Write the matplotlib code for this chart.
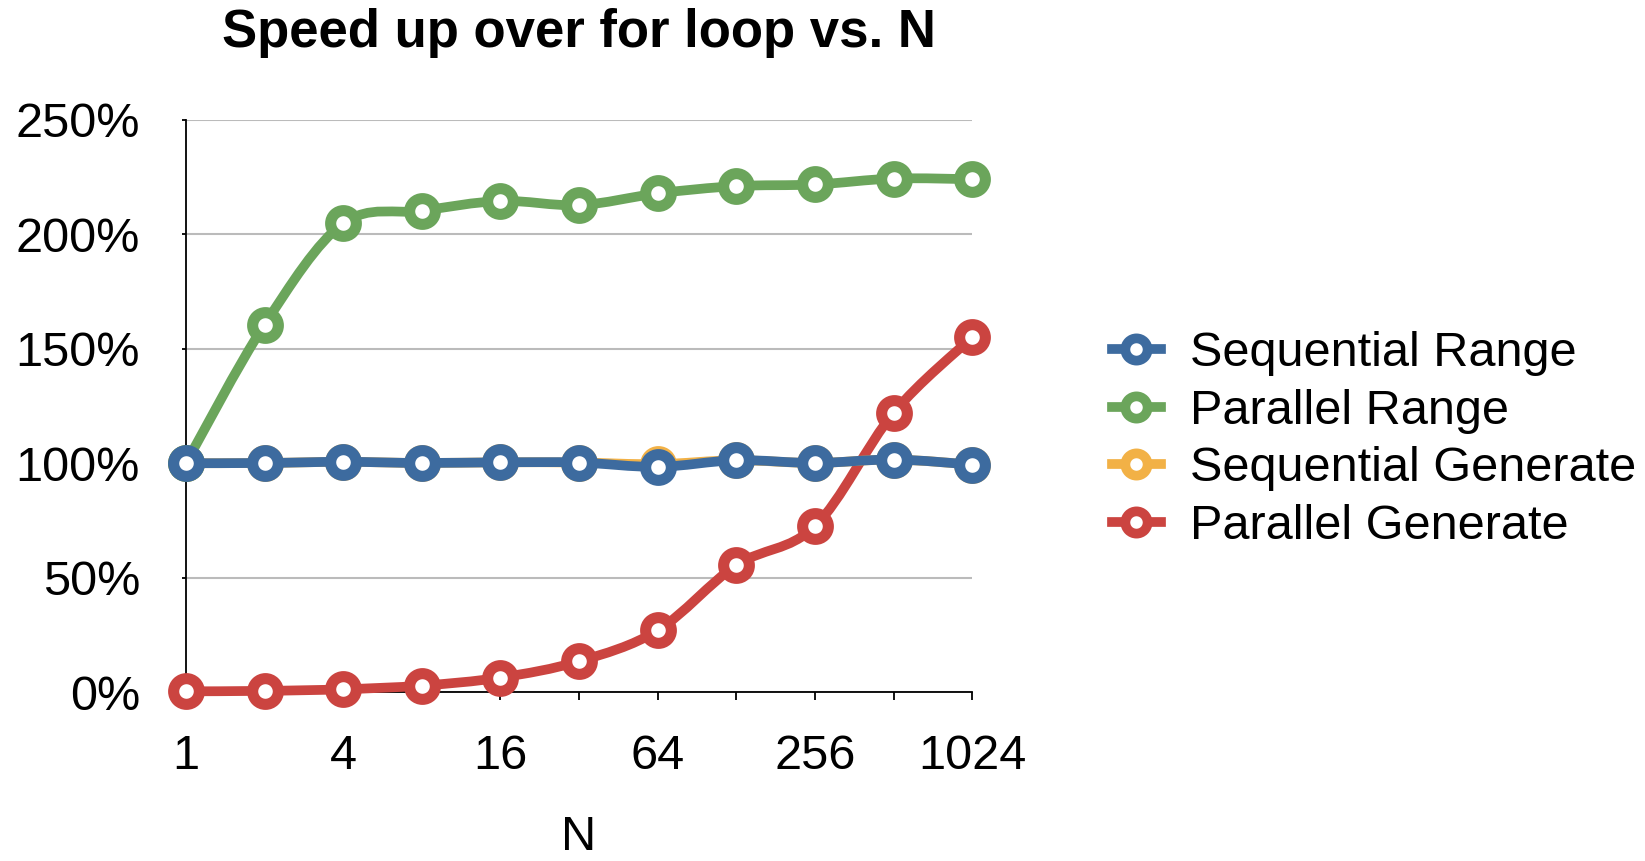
import numpy as np
import matplotlib
matplotlib.use("Agg")
import matplotlib.pyplot as plt
from matplotlib.path import Path
from matplotlib.patches import PathPatch
from matplotlib.lines import Line2D
from matplotlib.ticker import PercentFormatter, NullFormatter

plt.rcParams['font.family'] = ['Liberation Sans', 'DejaVu Sans']

# data (percent speed up vs. N)
n_values = [1, 2, 4, 8, 16, 32, 64, 128, 256, 512, 1024]
seq_range = [100, 100.1, 100.6, 100.1, 100.4, 100.3, 98.4, 101.3, 100.1, 101.6, 99.4]
par_range = [100, 160.5, 204.7, 210.2, 214.5, 212.7, 217.8, 221.0, 221.7, 224.3, 224.0]
seq_generate = [100, 100.1, 100.6, 100.1, 100.4, 100.3, 99.6, 101.3, 100.1, 101.6, 99.4]
par_generate = [0.4, 0.6, 1.3, 2.9, 6.4, 13.5, 27.0, 55.5, 72.5, 122.0, 155.0]

series_names = ["Sequential Range", "Parallel Range", "Sequential Generate", "Parallel Generate"]
series_values = [seq_range, par_range, seq_generate, par_generate]
series_colors = ['#3D6B9F', '#6BA55B', '#F2B146', '#CB4440']

x_major = [1, 4, 16, 64, 256, 1024]
x_minor = [2, 8, 32, 128, 512]
y_ticks = [0, 50, 100, 150, 200, 250]


def smooth_path(xs, ys):
    '''catmull-rom style bezier path, control points worked out in log2 space'''
    u = np.log2(np.asarray(xs, dtype=float))
    v = np.asarray(ys, dtype=float)
    pts = np.column_stack([u, v])
    ext = np.vstack([pts[0], pts, pts[-1]])
    verts = [pts[0]]
    codes = [Path.MOVETO]
    for i in range(len(pts) - 1):
        p0, p1, p2, p3 = ext[i], ext[i + 1], ext[i + 2], ext[i + 3]
        c1 = p1 + (p2 - p0) / 6.0
        c2 = p2 - (p3 - p1) / 6.0
        verts += [c1, c2, p2]
        codes += [Path.CURVE4] * 3
    verts = np.array(verts)
    verts[:, 0] = 2.0 ** verts[:, 0]
    return Path(verts, codes)


fig = plt.figure(figsize=(16.45, 8.61), dpi=100)
ax = fig.add_axes([0.113, 0.196, 0.478, 0.665])
ax.set_xscale('log', base=2)

LW = 7
for k, (name, vals, col) in enumerate(zip(series_names, series_values, series_colors)):
    z = 10 - 2 * k
    patch = PathPatch(smooth_path(n_values, vals), transform=ax.transData, fill=False,
                      edgecolor=col, lw=LW, capstyle='round', joinstyle='round',
                      zorder=z, clip_on=False)
    ax.add_patch(patch)
    ax.plot(n_values, vals, linestyle='none', marker='o', ms=18.5, mew=8,
            mfc='white', mec=col, zorder=z + 1, clip_on=False)

ax.set_xlim(1, 1024)
ax.set_ylim(0, 250)

ax.set_xticks(x_major, labels=[str(v) for v in x_major])
ax.set_xticks(x_minor, minor=True)
ax.xaxis.set_minor_formatter(NullFormatter())
ax.set_yticks(y_ticks)
ax.yaxis.set_major_formatter(PercentFormatter(decimals=0))

ax.tick_params(axis='x', which='both', direction='out', length=6, width=1.3,
               labelsize=35, pad=24)
ax.tick_params(axis='y', direction='out', length=3, width=1.3, labelsize=35, pad=30)

ax.grid(axis='y', color='#BBBBBB', lw=1.5)
ax.set_axisbelow(True)
for s in ['top', 'right']:
    ax.spines[s].set_visible(False)
for s in ['left', 'bottom']:
    ax.spines[s].set_linewidth(1.3)
    ax.spines[s].set_color('black')

ax.set_title("Speed up over for loop vs. N", fontsize=38, fontweight='bold', pad=52)
ax.set_xlabel("N", fontsize=35, labelpad=26)

handles = [Line2D([], [], color=c, lw=LW, marker='o', ms=16, mew=7, mfc='white', mec=c)
           for c in series_colors]
fig.legend(handles, series_names, loc='center left', bbox_to_anchor=(0.676, 0.489),
           frameon=False, fontsize=35, handlelength=1.0, handletextpad=0.6,
           labelspacing=0.26, borderpad=0, borderaxespad=0)

fig.savefig("out.png", dpi=100)
